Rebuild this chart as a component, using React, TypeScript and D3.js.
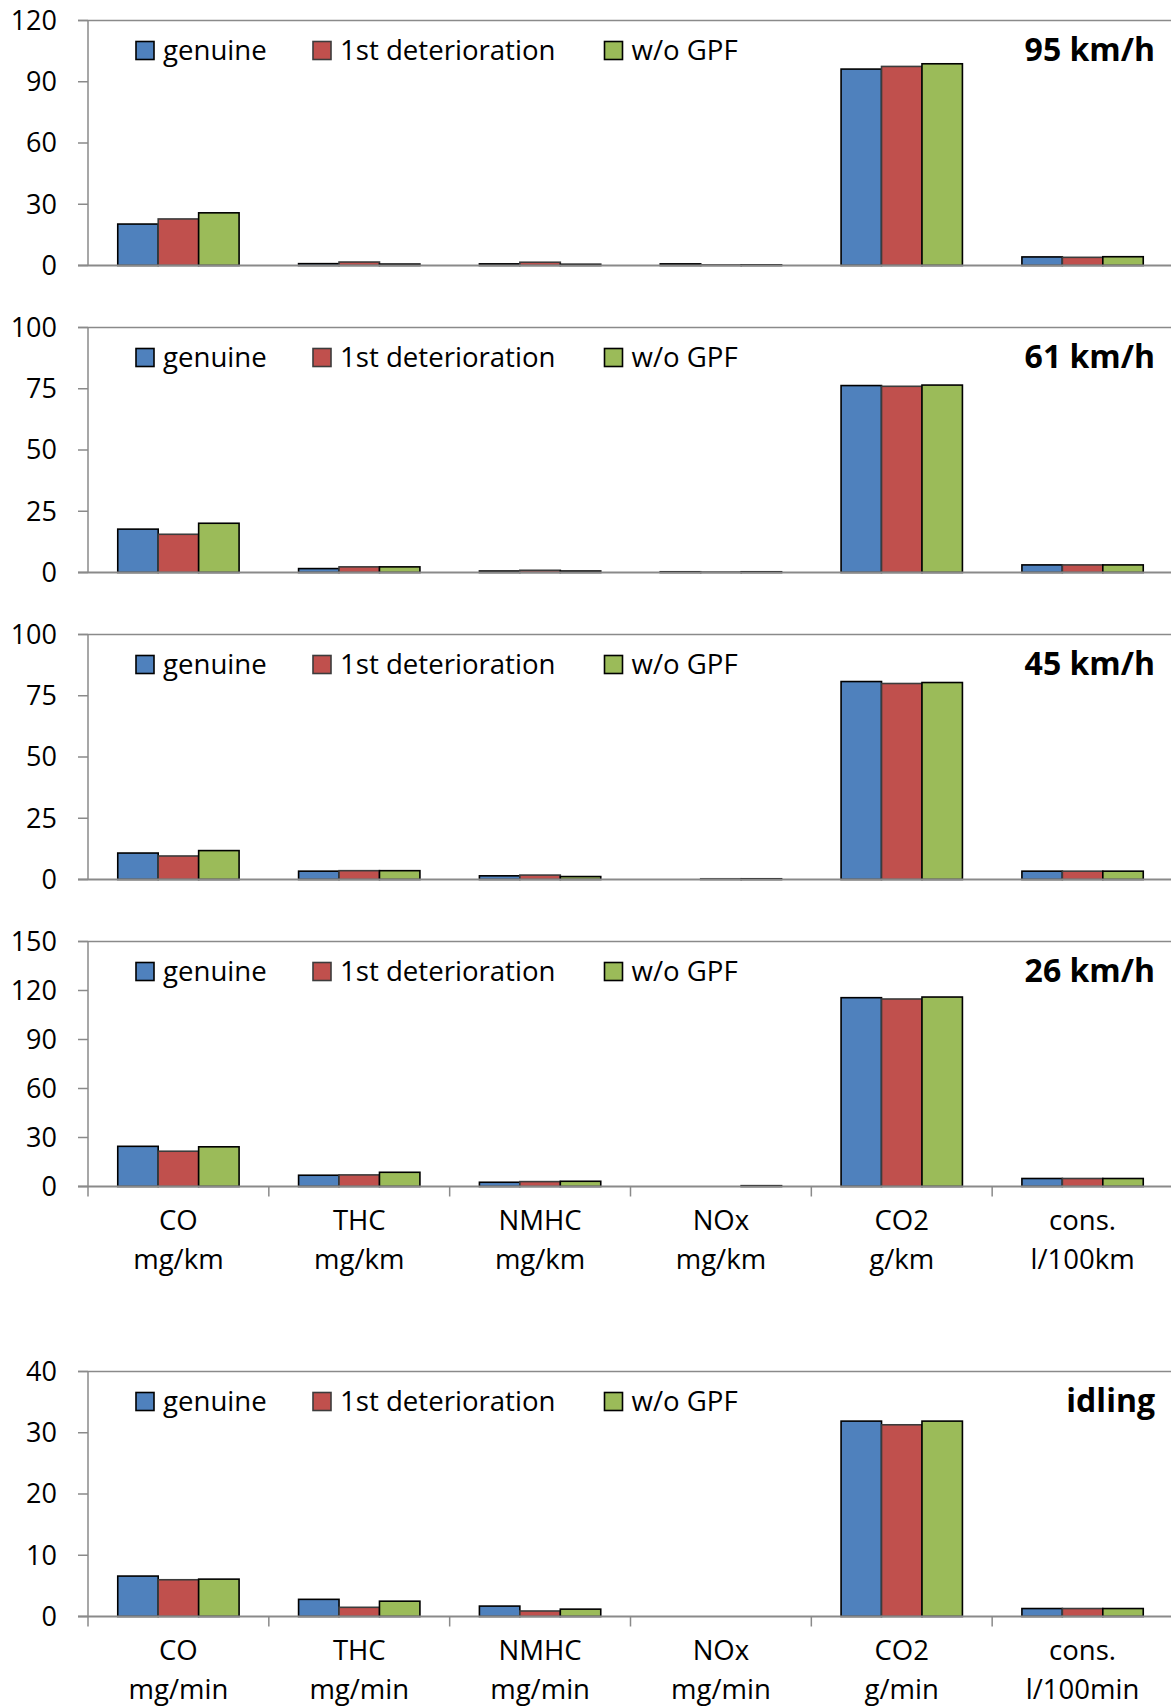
import React from "react";
import * as d3 from "d3";

const seriesNames = ["genuine", "1st deterioration", "w/o GPF"];
const seriesColors = ["#4F81BD", "#C0504D", "#9BBB59"];
const seriesStrokes = ["#000000", "#3c3c3c", "#000000"];

const categoriesKm = [["CO", "mg/km"], ["THC", "mg/km"], ["NMHC", "mg/km"], ["NOx", "mg/km"], ["CO2", "g/km"], ["cons.", "l/100km"]];
const categoriesMin = [["CO", "mg/min"], ["THC", "mg/min"], ["NMHC", "mg/min"], ["NOx", "mg/min"], ["CO2", "g/min"], ["cons.", "l/100min"]];

// values per panel: [genuine, 1st deterioration, w/o GPF], each over 6 categories
const genuine95 = [20.3, 0.9, 0.8, 0.8, 96.2, 4.2];
const deter95 = [22.8, 1.7, 1.6, 0.3, 97.5, 4.0];
const woGpf95 = [25.8, 0.7, 0.6, 0.3, 98.8, 4.3];

const genuine61 = [17.7, 1.6, 0.6, 0.3, 76.3, 3.1];
const deter61 = [15.6, 2.3, 0.9, 0.2, 76.0, 3.1];
const woGpf61 = [20.1, 2.3, 0.6, 0.3, 76.5, 3.1];

const genuine45 = [10.8, 3.4, 1.5, 0.0, 80.8, 3.4];
const deter45 = [9.6, 3.6, 1.8, 0.3, 80.0, 3.4];
const woGpf45 = [11.8, 3.6, 1.2, 0.3, 80.4, 3.4];

const genuine26 = [24.6, 6.9, 2.6, 0.0, 115.6, 4.9];
const deter26 = [21.6, 7.1, 3.0, 0.0, 114.8, 4.9];
const woGpf26 = [24.3, 8.7, 3.2, 0.5, 116.0, 4.9];

const genuineIdle = [6.6, 2.8, 1.7, 0.0, 31.9, 1.3];
const deterIdle = [6.0, 1.5, 0.9, 0.0, 31.3, 1.3];
const woGpfIdle = [6.1, 2.5, 1.2, 0.0, 31.9, 1.3];

const ticks95 = [0, 30, 60, 90, 120];
const ticks61 = [0, 25, 50, 75, 100];
const ticks45 = [0, 25, 50, 75, 100];
const ticks26 = [0, 30, 60, 90, 120, 150];
const ticksIdle = [0, 10, 20, 30, 40];

const titles = ["95 km/h", "61 km/h", "45 km/h", "26 km/h", "idling"];

const panels = [
  { title: titles[0], values: [genuine95, deter95, woGpf95], ticks: ticks95, cats: null as any, top: 20.5 },
  { title: titles[1], values: [genuine61, deter61, woGpf61], ticks: ticks61, cats: null as any, top: 327.5 },
  { title: titles[2], values: [genuine45, deter45, woGpf45], ticks: ticks45, cats: null as any, top: 634.5 },
  { title: titles[3], values: [genuine26, deter26, woGpf26], ticks: ticks26, cats: categoriesKm, top: 941.5 },
  { title: titles[4], values: [genuineIdle, deterIdle, woGpfIdle], ticks: ticksIdle, cats: categoriesMin, top: 1371.5 },
];

const FONT = "'Open Sans', sans-serif";
const AXIS = "#8a8a8a";
const X0 = 88;
const X1 = 1173;
const PH = 245;

function Panel({ p }: { p: typeof panels[number] }) {
  const catIdx = d3.range(6).map(String);
  const x = d3.scaleBand<string>().domain(catIdx).range([X0, X1]).padding(0);
  const groupW = x.bandwidth() * 0.671;
  const xs = d3.scaleBand<string>().domain(["0", "1", "2"]).range([0, groupW]).padding(0);
  const maxV = p.ticks[p.ticks.length - 1];
  const y = d3.scaleLinear().domain([0, maxV]).range([p.top + PH, p.top]);
  const zero = y(0);
  const legendX = [136, 313, 604.5];
  return (
    <g>
      <line x1={X0 - 10} x2={1171} y1={p.top} y2={p.top} stroke={AXIS} strokeWidth={1.5} />
      {p.ticks.map((t) => (
        <g key={t}>
          <line x1={X0 - 10} x2={X0} y1={y(t)} y2={y(t)} stroke={AXIS} strokeWidth={1.5} />
          <text x={57} y={y(t)} dy="0.35em" textAnchor="end" fontFamily={FONT} fontSize={27} fill="#000">
            {t}
          </text>
        </g>
      ))}
      {catIdx.map((c, ci) => {
        const cx = (x(c) as number) + x.bandwidth() / 2 - groupW / 2;
        return p.values.map((vals, si) => {
          const v = vals[ci];
          if (v <= 0) return null;
          const yy = y(v);
          return (
            <rect
              key={c + "-" + si}
              x={cx + (xs(String(si)) as number)}
              y={yy}
              width={xs.bandwidth()}
              height={zero - yy}
              fill={seriesColors[si]}
              stroke={seriesStrokes[si]}
              strokeWidth={1.6}
            />
          );
        });
      })}
      <line x1={X0} x2={X0} y1={p.top} y2={zero + (p.cats ? 10 : 0)} stroke={AXIS} strokeWidth={1.5} />
      <line x1={X0 - 10} x2={1171} y1={zero} y2={zero} stroke={AXIS} strokeWidth={1.8} />
      {p.cats &&
        catIdx.map((c, ci) => (
          <g key={"xc" + c}>
            {ci > 0 && (
              <line x1={x(c) as number} x2={x(c) as number} y1={zero} y2={zero + 10} stroke={AXIS} strokeWidth={1.5} />
            )}
            <text x={(x(c) as number) + x.bandwidth() / 2} y={zero + 43} textAnchor="middle" fontFamily={FONT} fontSize={27.5} fill="#000">
              {p.cats[ci][0]}
            </text>
            <text x={(x(c) as number) + x.bandwidth() / 2} y={zero + 82} textAnchor="middle" fontFamily={FONT} fontSize={27.5} fill="#000">
              {p.cats[ci][1]}
            </text>
          </g>
        ))}
      {seriesNames.map((n, si) => (
        <g key={n}>
          <rect x={legendX[si]} y={p.top + 21} width={18} height={18} fill={seriesColors[si]} stroke={seriesStrokes[si]} strokeWidth={1.6} />
          <text x={legendX[si] + 27} y={p.top + 39} fontFamily={FONT} fontSize={27.6} fill="#000">
            {n}
          </text>
        </g>
      ))}
      <text x={1155} y={p.top + 40.5} textAnchor="end" fontFamily={FONT} fontWeight="bold" fontSize={32} fill="#000">
        {p.title}
      </text>
    </g>
  );
}

export default function App() {
  return (
    <svg
      width={1171}
      height={1706}
      viewBox="0 0 1171 1706"
      style={{ position: "absolute", left: 0, top: 0, background: "#fff" }}
    >
      <rect x={0} y={0} width={1171} height={1706} fill="#fff" />
      {panels.map((p, i) => (
        <Panel key={i} p={p} />
      ))}
    </svg>
  );
}
